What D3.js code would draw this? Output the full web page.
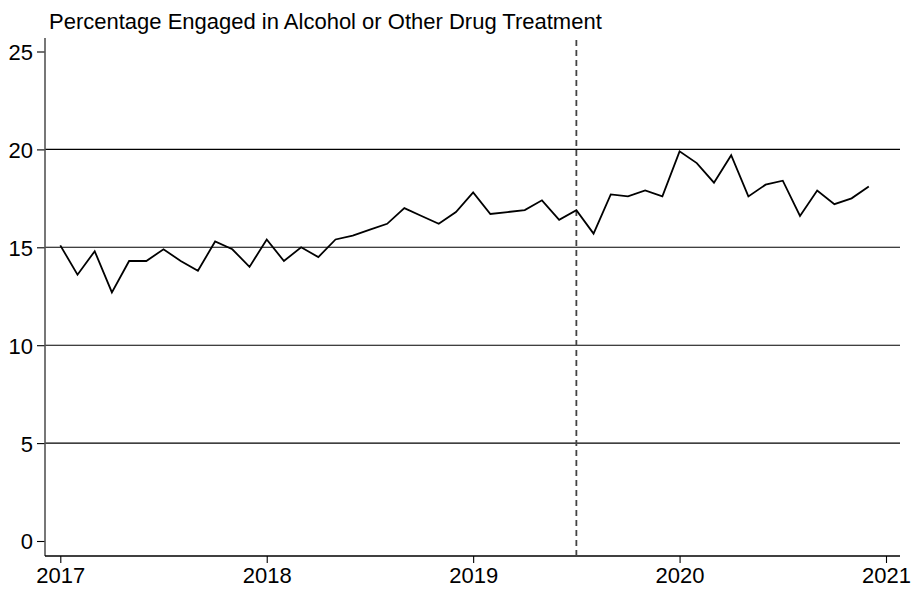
<!DOCTYPE html>
<html>
<head>
<meta charset="utf-8">
<script src="https://cdn.jsdelivr.net/npm/d3@7"></script>
<style>
  html, body { margin: 0; padding: 0; background: #fff; }
  svg { display: block; }
  text { font-family: "Liberation Sans", Arial, Helvetica, sans-serif; fill: #000; }
</style>
</head>
<body>
<svg id="chart" width="911" height="591"></svg>
<script>
// ---- data ----
const title = "Percentage Engaged in Alcohol or Other Drug Treatment";
const startYear = 2017;
const months = d3.range(48); // Jan 2017 .. Dec 2020
const values = [
  15.1, 13.6, 14.8, 12.7, 14.3, 14.3, 14.9, 14.3, 13.8, 15.3, 14.9, 14.0,
  15.4, 14.3, 15.0, 14.5, 15.4, 15.6, 15.9, 16.2, 17.0, 16.6, 16.2, 16.8,
  17.8, 16.7, 16.8, 16.9, 17.4, 16.4, 16.9, 15.7, 17.7, 17.6, 17.9, 17.6,
  19.9, 19.3, 18.3, 19.7, 17.6, 18.2, 18.4, 16.6, 17.9, 17.2, 17.5, 18.1
];
const xTicks = [2017, 2018, 2019, 2020, 2021];
const yTicks = [0, 5, 10, 15, 20, 25];
const gridValues = [5, 10, 15, 20];
const referenceLine = 2019.5;

// ---- layout ----
const svg = d3.select("#chart");
const box = { left: 45, right: 900, top: 38, bottom: 556 };

const x = d3.scaleLinear().domain([2017, 2021]).range([60.3, 886]);
const y = d3.scaleLinear().domain([0, 25]).range([541, 51.5]);

const data = months.map((m, i) => ({ t: startYear + m / 12, v: values[i] }));

// gridlines
svg.append("g").selectAll("line").data(gridValues).join("line")
  .attr("x1", box.left).attr("x2", box.right)
  .attr("y1", d => y(d)).attr("y2", d => y(d))
  .attr("stroke", "#000").attr("stroke-width", 1.1);

// y axis
const yAxis = svg.append("g").attr("transform", `translate(${box.left},0)`)
  .call(d3.axisLeft(y).tickValues(yTicks).tickSize(8).tickPadding(4).tickFormat(d3.format("d")));
yAxis.select(".domain").remove();
yAxis.selectAll(".tick line").attr("stroke", "#000").attr("stroke-width", 1.1);
yAxis.selectAll(".tick text").style("font-size", "22px").attr("dy", "0.36em");
svg.append("line").attr("x1", box.left).attr("x2", box.left)
  .attr("y1", box.top).attr("y2", box.bottom)
  .attr("stroke", "#555").attr("stroke-width", 1.6);

// x axis
const xAxis = svg.append("g").attr("transform", `translate(0,${box.bottom})`)
  .call(d3.axisBottom(x).tickValues(xTicks).tickSize(7).tickPadding(4).tickFormat(d3.format("d")));
xAxis.select(".domain").remove();
xAxis.selectAll(".tick line").attr("stroke", "#000").attr("stroke-width", 1.1);
xAxis.selectAll(".tick text").style("font-size", "22px");
svg.append("line").attr("x1", box.left).attr("x2", box.right)
  .attr("y1", box.bottom).attr("y2", box.bottom)
  .attr("stroke", "#000").attr("stroke-width", 1.3);

// reference dashed line
svg.append("line")
  .attr("x1", x(referenceLine)).attr("x2", x(referenceLine))
  .attr("y1", 40).attr("y2", box.bottom)
  .attr("stroke", "#444").attr("stroke-width", 1.8)
  .attr("stroke-dasharray", "6,4");

// series line
svg.append("path").datum(data)
  .attr("fill", "none").attr("stroke", "#000").attr("stroke-width", 1.8)
  .attr("stroke-linejoin", "miter")
  .attr("d", d3.line().x(d => x(d.t)).y(d => y(d.v)));

// title
svg.append("text").attr("x", 49).attr("y", 29)
  .style("font-size", "22px").text(title);
</script>
</body>
</html>
